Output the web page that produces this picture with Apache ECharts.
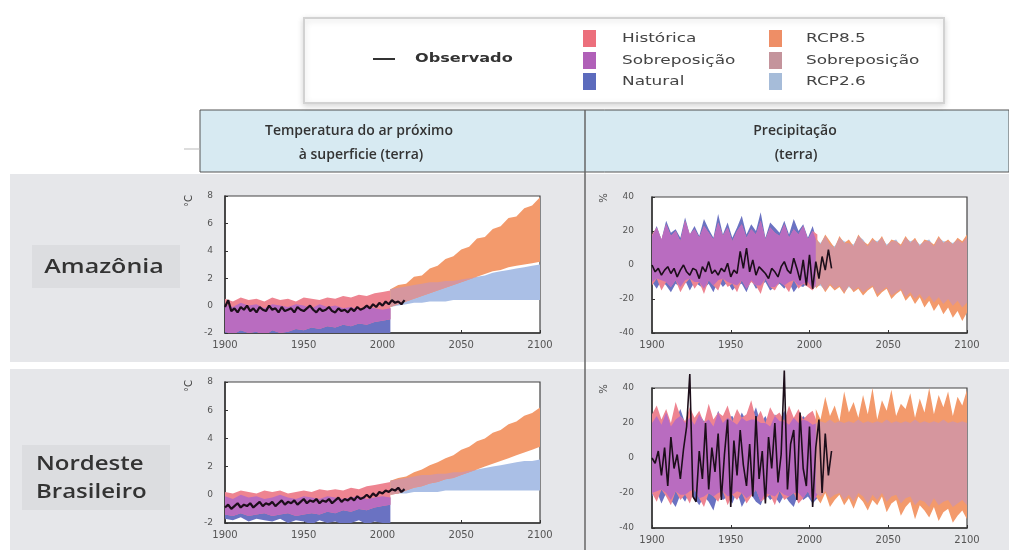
<!DOCTYPE html>
<html><head><meta charset="utf-8">
<script src="https://cdn.jsdelivr.net/npm/echarts@6/dist/echarts.min.js"></script>
<style>html,body{margin:0;padding:0;background:#fff}#c{width:1009px;height:550px}</style>
</head><body><div id="c"></div>
<script>
function range(a,b,s){var r=[];for(var v=a;v<=b;v+=s)r.push(v);return r;}
// ---- x positions (years) ----
var T_HIST_YEARS = range(1900,2005,5);   // 22
var T_RCP_YEARS  = range(2005,2100,5);   // 20
var P_HIST_YEARS = range(1900,2005,3);   // 36
var P_RCP_YEARS  = range(2004,2100,3);   // 33
var OBS_YEARS    = range(1900,2014,2);   // 58
var X_TICKS = [1900,1950,2000,2050,2100];
var T_TICKS = [-2,0,2,4,6,8];
var P_TICKS = [-40,-20,0,20,40];

// ---- Amazônia, temperatura (°C) ----
var amzTempHistHi = [0.5,0.3,0.6,0.4,0.5,0.3,0.6,0.4,0.5,0.3,0.6,0.5,0.4,0.6,0.5,0.7,0.6,0.8,0.7,0.9,1.0,1.1];
var amzTempHistLo = [-1.9,-2.1,-1.8,-2.0,-1.9,-2.2,-1.8,-2.0,-1.9,-1.7,-1.8,-1.6,-1.7,-1.5,-1.6,-1.4,-1.5,-1.3,-1.4,-1.2,-1.1,-1.0];
var amzTempNatHi  = [0.1,-0.1,0.2,0.0,0.1,-0.2,0.1,0.0,-0.1,0.1,0.0,-0.2,0.1,-0.1,0.0,-0.2,-0.1,-0.3,-0.1,-0.2,-0.3,-0.2];
var amzTempNatLo  = [-2.4,-2.3,-2.5,-2.3,-2.4,-2.5,-2.3,-2.4,-2.3,-2.5,-2.4,-2.3,-2.5,-2.4,-2.3,-2.5,-2.4,-2.3,-2.4,-2.5,-2.3,-2.4];
var amzTempR85Hi  = [1.2,1.5,1.6,2.1,2.2,2.7,2.9,3.4,3.6,4.1,4.3,4.9,5.0,5.6,5.8,6.4,6.5,7.1,7.3,7.9];
var amzTempR85Lo  = [-0.1,0.1,0.3,0.5,0.7,0.9,1.1,1.3,1.5,1.7,1.9,2.1,2.3,2.5,2.6,2.8,2.9,3.0,3.1,3.2];
var amzTempR26Hi  = [1.2,1.3,1.4,1.5,1.6,1.7,1.7,1.8,1.8,1.9,2.0,2.1,2.2,2.4,2.5,2.6,2.7,2.8,2.9,3.0];
var amzTempR26Lo  = [-0.1,0.0,0.1,0.2,0.2,0.3,0.3,0.3,0.4,0.4,0.4,0.4,0.4,0.4,0.4,0.4,0.4,0.4,0.4,0.4];
var amzTempObs    = [-0.1,0.4,-0.4,-0.2,-0.5,-0.1,-0.3,0.0,-0.4,-0.2,
                     -0.5,-0.1,-0.3,-0.4,0.0,-0.3,-0.2,-0.5,-0.1,-0.4,
                     -0.3,-0.2,-0.5,-0.1,-0.3,-0.4,-0.2,0.0,-0.3,-0.5,
                     -0.2,-0.4,-0.3,-0.1,-0.4,-0.5,-0.2,-0.4,-0.3,-0.5,
                     -0.2,-0.4,-0.1,-0.3,-0.2,0.0,-0.2,0.1,-0.1,0.2,
                     0.0,0.3,0.1,0.4,0.2,0.3,0.1,0.4];

// ---- Nordeste, temperatura (°C) ----
var ndeTempHistHi = [0.2,0.1,0.3,0.2,0.1,0.3,0.2,0.3,0.1,0.2,0.3,0.2,0.4,0.3,0.4,0.3,0.5,0.4,0.6,0.7,0.8,0.9];
var ndeTempHistLo = [-1.4,-1.5,-1.3,-1.5,-1.4,-1.3,-1.5,-1.4,-1.3,-1.5,-1.4,-1.3,-1.4,-1.2,-1.3,-1.1,-1.2,-1.0,-1.1,-0.9,-0.8,-0.7];
var ndeTempNatHi  = [-0.1,-0.3,0.0,-0.2,-0.1,-0.3,-0.2,0.0,-0.2,-0.3,-0.1,-0.2,-0.3,-0.1,-0.2,-0.3,-0.2,-0.1,-0.3,-0.2,-0.1,-0.2];
var ndeTempNatLo  = [-1.7,-1.8,-1.6,-1.9,-1.7,-1.8,-1.9,-1.7,-2.0,-1.8,-1.9,-2.1,-1.8,-2.0,-1.9,-2.1,-2.0,-1.8,-2.1,-1.9,-2.0,-2.1];
var ndeTempR85Hi  = [1.0,1.2,1.3,1.6,1.8,2.1,2.3,2.6,2.8,3.2,3.4,3.8,4.0,4.4,4.6,5.0,5.2,5.6,5.8,6.2];
var ndeTempR85Lo  = [0.0,0.1,0.3,0.5,0.6,0.8,0.9,1.1,1.2,1.4,1.6,1.8,2.0,2.2,2.4,2.6,2.8,3.0,3.2,3.4];
var ndeTempR26Hi  = [1.0,1.1,1.2,1.3,1.4,1.4,1.5,1.5,1.6,1.6,1.7,1.8,1.9,2.0,2.1,2.2,2.3,2.4,2.4,2.5];
var ndeTempR26Lo  = [0.0,0.1,0.1,0.2,0.2,0.2,0.2,0.3,0.3,0.3,0.3,0.3,0.3,0.3,0.3,0.3,0.3,0.3,0.3,0.3];
var ndeTempObs    = [-0.9,-0.7,-1.0,-0.8,-0.6,-0.9,-0.7,-0.8,-0.6,-0.9,
                     -0.7,-0.5,-0.8,-0.6,-0.7,-0.5,-0.8,-0.6,-0.4,-0.7,
                     -0.5,-0.6,-0.4,-0.7,-0.5,-0.3,-0.6,-0.4,-0.5,-0.3,
                     -0.6,-0.4,-0.5,-0.3,-0.6,-0.4,-0.2,-0.5,-0.3,-0.4,
                     -0.2,-0.4,-0.1,-0.3,-0.2,0.0,-0.2,0.1,-0.1,0.2,
                     0.1,0.3,0.2,0.4,0.3,0.5,0.2,0.4];

// ---- Amazônia, precipitação (%) ----
var amzPrHistHi = [18,22,15,24,17,20,14,26,18,21,16,23,19,15,25,17,22,14,20,24,16,21,18,26,15,22,19,17,24,16,21,18,23,15,20,18];
var amzPrHistLo = [-12,-8,-15,-10,-13,-9,-16,-11,-8,-14,-10,-17,-9,-12,-15,-8,-13,-11,-16,-9,-14,-10,-12,-17,-8,-13,-15,-10,-12,-16,-9,-14,-11,-13,-15,-10];
var amzPrNatHi  = [17,23,15,26,19,21,16,28,18,23,17,27,21,16,30,18,25,16,22,29,18,24,20,31,16,25,22,19,26,18,27,20,24,16,23,13];
var amzPrNatLo  = [-10,-14,-9,-12,-16,-11,-13,-9,-15,-10,-12,-14,-11,-16,-9,-13,-10,-15,-12,-11,-16,-9,-14,-12,-10,-15,-13,-11,-14,-10,-16,-12,-13,-10,-14,-12];
var amzPrR85Hi  = [16,12,18,14,10,17,13,15,11,18,14,12,16,13,17,11,15,14,12,17,13,16,11,15,14,12,17,13,15,12,16,14,18];
var amzPrR85Lo  = [-14,-11,-16,-12,-15,-13,-17,-12,-16,-14,-18,-15,-13,-19,-16,-14,-20,-17,-15,-21,-18,-23,-19,-25,-21,-27,-23,-29,-25,-31,-27,-33,-28];
var amzPrR26Hi  = [15,13,17,12,11,16,14,13,12,17,15,11,15,14,16,12,14,15,11,16,14,15,12,14,15,11,16,14,14,13,15,13,16];
var amzPrR26Lo  = [-13,-12,-15,-11,-14,-12,-16,-13,-15,-13,-16,-14,-12,-17,-15,-13,-18,-16,-14,-19,-16,-20,-17,-21,-18,-22,-19,-23,-20,-24,-21,-25,-22];
var amzPrObs    = [0,-4,-2,-6,-3,-1,-5,-2,-7,-3,
                   0,-4,-6,-2,-3,-8,-1,-4,2,-5,
                   -3,-6,-2,-4,1,-7,-3,-5,8,-2,
                   10,-4,3,-6,-1,-3,-5,-8,-2,-4,
                   -7,-1,2,-3,-5,4,-2,-9,3,-12,
                   6,-14,2,-8,5,-3,9,-2];

// ---- Nordeste, precipitação (%) ----
var ndePrHistHi = [25,30,22,28,20,32,24,21,29,23,27,20,31,22,26,24,30,21,28,23,25,33,22,27,20,29,24,26,21,30,23,28,22,25,27,20];
var ndePrHistLo = [-20,-25,-18,-22,-27,-19,-24,-21,-26,-18,-23,-28,-20,-22,-25,-19,-27,-21,-24,-20,-26,-22,-18,-25,-23,-21,-27,-19,-24,-22,-20,-26,-23,-19,-25,-21];
var ndePrNatHi  = [20,24,19,26,18,22,28,20,23,19,25,21,22,18,27,20,23,24,19,26,21,22,29,20,24,18,25,21,27,19,23,20,24,21,19,22];
var ndePrNatLo  = [-22,-19,-26,-20,-24,-28,-21,-25,-19,-23,-27,-22,-25,-30,-20,-24,-22,-26,-19,-28,-23,-21,-25,-27,-20,-24,-22,-26,-21,-25,-28,-20,-24,-22,-26,-23];
var ndePrR85Hi  = [28,22,35,24,30,21,38,26,32,23,36,25,40,22,33,27,39,24,31,28,37,23,34,26,40,25,36,29,38,24,35,30,39];
var ndePrR85Lo  = [-22,-26,-20,-28,-24,-21,-27,-23,-29,-22,-25,-30,-24,-27,-22,-31,-26,-24,-33,-28,-25,-35,-27,-30,-34,-28,-36,-31,-29,-37,-33,-30,-35];
var ndePrR26Hi  = [20,21,20,22,20,21,20,21,20,22,20,21,20,21,20,22,20,21,20,21,20,22,20,21,20,21,20,22,20,21,20,21,20];
var ndePrR26Lo  = [-20,-22,-19,-23,-21,-20,-24,-21,-25,-20,-22,-26,-21,-24,-20,-25,-22,-21,-26,-23,-22,-27,-24,-25,-28,-23,-27,-25,-24,-28,-26,-24,-27];
var ndePrObs    = [0,-3,4,-10,6,-16,12,-6,2,-12,
                   5,18,48,-22,-25,4,-12,20,-18,6,
                   -8,14,-24,2,22,-28,10,-10,16,-4,
                   -16,8,-22,24,-12,4,-26,12,-6,20,
                   -14,2,50,-18,8,16,-24,26,-6,-16,
                   18,-28,6,22,-20,14,-10,4];

// ---- colours ----
var C_HIST='#ee8491', C_NAT='#6a72c2', C_OVHN='#b96cc0';
var C_R85='#f39a6c', C_R26='#aabfe6', C_OVR='#d6969e';
var C_OBS='#1c0e1a';

function ovl(aLo,aHi,bLo,bHi){
  var lo=[],hi=[];
  for(var i=0;i<aLo.length;i++){var l=Math.max(aLo[i],bLo[i]);var h=Math.min(aHi[i],bHi[i]);lo.push(l);hi.push(Math.max(l,h));}
  return [lo,hi];
}
function band(gi,xs,lo,hi,color,z){
  return {type:'custom',xAxisIndex:gi,yAxisIndex:gi,clip:true,silent:true,z:z,
    data:[[xs[0],lo[0]]],
    renderItem:function(p,api){
      var pts=[];
      for(var i=0;i<xs.length;i++)pts.push(api.coord([xs[i],hi[i]]));
      for(var j=xs.length-1;j>=0;j--)pts.push(api.coord([xs[j],lo[j]]));
      return {type:'polygon',shape:{points:pts},style:{fill:color}};
    }};
}
function panel(gi,hy,hLo,hHi,nLo,nHi,ry,aLo,aHi,bLo,bHi,obs,clipObs,lw){
  var o1=ovl(hLo,hHi,nLo,nHi), o2=ovl(aLo,aHi,bLo,bHi);
  return [
    band(gi,hy,nLo,nHi,C_NAT,1),
    band(gi,hy,hLo,hHi,C_HIST,2),
    band(gi,hy,o1[0],o1[1],C_OVHN,3),
    band(gi,ry,bLo,bHi,C_R26,1),
    band(gi,ry,aLo,aHi,C_R85,2),
    band(gi,ry,o2[0],o2[1],C_OVR,3),
    {type:'line',xAxisIndex:gi,yAxisIndex:gi,z:5,clip:clipObs,silent:true,
     data:OBS_YEARS.map(function(y,i){return [y,obs[i]];}),
     showSymbol:false,symbol:'none',lineStyle:{color:C_OBS,width:lw}}
  ];
}

var grids=[
  {left:225,top:196,width:315,height:137},
  {left:652,top:197,width:315,height:136},
  {left:225,top:382,width:315,height:141},
  {left:652,top:388,width:315,height:140}
].map(function(g){g.show=true;g.backgroundColor='#fff';g.borderColor='#444';g.borderWidth=1.2;g.containLabel=false;return g;});

function xAx(gi){return {gridIndex:gi,type:'value',min:X_TICKS[0],max:X_TICKS[X_TICKS.length-1],interval:X_TICKS[1]-X_TICKS[0],
  axisLine:{show:true,onZero:false,lineStyle:{color:'#333',width:1.5}},
  axisTick:{show:true,inside:true,length:3,lineStyle:{color:'#333'}},
  axisLabel:{fontSize:10,color:'#555',margin:7,fontFamily:'DejaVu Sans',showMinLabel:true,showMaxLabel:true,
    formatter:function(v){return String(v);}},
  splitLine:{show:false}};}
function yAx(gi,ticks,margin){return {gridIndex:gi,type:'value',min:ticks[0],max:ticks[ticks.length-1],interval:ticks[1]-ticks[0],
  axisLine:{show:true,onZero:false,lineStyle:{color:'#333',width:1.5}},
  axisTick:{show:true,inside:true,length:3,lineStyle:{color:'#333'}},
  axisLabel:{fontSize:9,color:'#555',margin:margin,fontFamily:'DejaVu Sans',formatter:function(v){return String(v);}},
  splitLine:{show:false}};}

var series=[].concat(
  panel(0,T_HIST_YEARS,amzTempHistLo,amzTempHistHi,amzTempNatLo,amzTempNatHi,T_RCP_YEARS,amzTempR85Lo,amzTempR85Hi,amzTempR26Lo,amzTempR26Hi,amzTempObs,true,2.2),
  panel(1,P_HIST_YEARS,amzPrHistLo,amzPrHistHi,amzPrNatLo,amzPrNatHi,P_RCP_YEARS,amzPrR85Lo,amzPrR85Hi,amzPrR26Lo,amzPrR26Hi,amzPrObs,true,1.6),
  panel(2,T_HIST_YEARS,ndeTempHistLo,ndeTempHistHi,ndeTempNatLo,ndeTempNatHi,T_RCP_YEARS,ndeTempR85Lo,ndeTempR85Hi,ndeTempR26Lo,ndeTempR26Hi,ndeTempObs,true,2.2),
  panel(3,P_HIST_YEARS,ndePrHistLo,ndePrHistHi,ndePrNatLo,ndePrNatHi,P_RCP_YEARS,ndePrR85Lo,ndePrR85Hi,ndePrR26Lo,ndePrR26Hi,ndePrObs,false,1.6)
);

var LEG_FONT='13px "DejaVu Sans"';
function ltxt(x,y,t,font,fill,sx){return {type:'text',x:x,y:y,z:20,scaleX:sx||1,style:{text:t,font:font,fill:fill||'#444',align:'left',verticalAlign:'middle'}};}
function ctxt(x,y,t,font,fill,sx,rot){return {type:'text',x:x,y:y,z:20,scaleX:sx||1,rotation:rot||0,style:{text:t,font:font,fill:fill||'#333',align:'center',verticalAlign:'middle'}};}
function rect(x,y,w,h,fill,extra){var s={fill:fill};for(var k in (extra||{}))s[k]=extra[k];return {type:'rect',z:-10,shape:{x:x,y:y,width:w,height:h},style:s};}
function line(x1,y1,x2,y2,color,w,z){return {type:'line',z:z||-5,shape:{x1:x1,y1:y1,x2:x2,y2:y2},style:{stroke:color,lineWidth:w}};}

var graphics=[
  rect(10,174,999,188,'#e6e7ea'),
  rect(10,369,999,181,'#e6e7ea'),
  rect(32,245,148,43,'#dcdde0'),
  rect(22,445,148,65,'#dcdde0'),
  rect(200,110,809,62,'#d7eaf2',{stroke:'#555',lineWidth:1}),
  line(585,110,585,550,'#666',1.5),
  line(184,149,200,149,'#bbb',1),
  rect(304,18,640,85,'#fff',{stroke:'#d2d2d2',lineWidth:2,shadowBlur:6,shadowColor:'rgba(0,0,0,0.15)',shadowOffsetY:2}),
  line(373,59,395,59,'#333',2,20),
  ltxt(415,59,'Observado','bold 13px "DejaVu Sans"','#333',1.24),
  {type:'rect',z:20,shape:{x:583,y:30,width:13,height:17},style:{fill:'#ec6f7c'}},
  {type:'rect',z:20,shape:{x:583,y:52,width:13,height:17},style:{fill:'#b060b8'}},
  {type:'rect',z:20,shape:{x:583,y:73,width:13,height:17},style:{fill:'#5c6bbd'}},
  {type:'rect',z:20,shape:{x:769,y:30,width:13,height:17},style:{fill:'#ee8e66'}},
  {type:'rect',z:20,shape:{x:769,y:52,width:13,height:17},style:{fill:'#c4949c'}},
  {type:'rect',z:20,shape:{x:769,y:73,width:13,height:17},style:{fill:'#a6bcd9'}},
  ltxt(622,39,'Histórica',LEG_FONT,'#444',1.3),
  ltxt(622,61,'Sobreposição',LEG_FONT,'#444',1.3),
  ltxt(622,82,'Natural',LEG_FONT,'#444',1.3),
  ltxt(806,39,'RCP8.5',LEG_FONT,'#444',1.3),
  ltxt(806,61,'Sobreposição',LEG_FONT,'#444',1.3),
  ltxt(806,82,'RCP2.6',LEG_FONT,'#444',1.3),
  ctxt(359,131,'Temperatura do ar próximo','600 14px "Open Sans"','#333'),
  ctxt(361,155,'à superficie (terra)','600 14px "Open Sans"','#333'),
  ctxt(795,131,'Precipitação','600 14px "Open Sans"','#333'),
  ctxt(796,155,'(terra)','600 14px "Open Sans"','#333'),
  ctxt(104,267,'Amazônia','600 20px "Open Sans"','#333',1.25),
  ltxt(36,464,'Nordeste','600 20px "Open Sans"','#333',1.2),
  ltxt(36,492,'Brasileiro','600 20px "Open Sans"','#333',1.2),
  ctxt(189,201,'°C','10px "DejaVu Sans"','#444',1,Math.PI/2),
  ctxt(604,198,'%','10px "DejaVu Sans"','#444',1,Math.PI/2),
  ctxt(189,386,'°C','10px "DejaVu Sans"','#444',1,Math.PI/2),
  ctxt(604,389,'%','10px "DejaVu Sans"','#444',1,Math.PI/2)
];

var chart=echarts.init(document.getElementById('c'),null,{renderer:'canvas'});
chart.setOption({
  animation:false,
  backgroundColor:'#fff',
  grid:grids,
  xAxis:[xAx(0),xAx(1),xAx(2),xAx(3)],
  yAxis:[yAx(0,T_TICKS,12),yAx(1,P_TICKS,18),yAx(2,T_TICKS,12),yAx(3,P_TICKS,18)],
  series:series,
  graphic:{elements:graphics}
});
</script></body></html>
